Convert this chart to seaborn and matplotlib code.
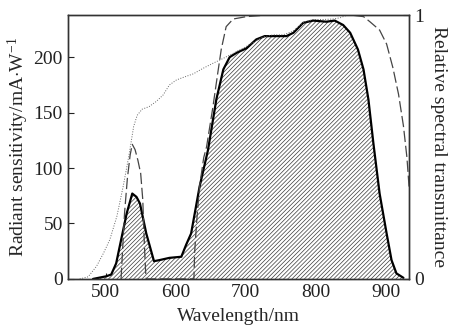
import numpy as np
import pandas as pd
import matplotlib
matplotlib.use("Agg")
import matplotlib.pyplot as plt
import seaborn as sns

# radiant sensitivity (mA/W), solid curve with hatched area
sens_nm = [482, 501, 508, 515, 522, 530, 538, 544, 549, 558, 569, 577, 591, 608, 615, 622,
           634, 646, 658, 668, 677, 687, 701, 715, 727, 744, 758, 768, 782, 796, 815, 827,
           839, 849, 860, 868, 875, 882, 891, 901, 908, 915, 925]
sens_val = [0, 2.4, 4, 14, 35, 59, 77, 74, 68, 41, 16, 17, 19, 20, 31, 41,
            83, 116, 162, 189, 200, 204, 208, 216, 219, 219, 219, 222, 231, 233, 232, 233,
            229, 222, 207, 189, 162, 123, 77, 41, 17, 5, 1]

# dotted curve (relative, right axis)
dot_nm = [463, 475, 487, 497, 506, 516, 525, 533, 540, 545, 552, 562, 572, 582, 591, 601,
          611, 625, 639, 653, 668, 682, 696, 710, 724, 739, 753, 767, 782, 796, 810, 825,
          835, 845, 858, 870]
dot_val = [0, 0.008, 0.048, 0.098, 0.149, 0.237, 0.35, 0.464, 0.578, 0.62, 0.643, 0.653,
           0.672, 0.697, 0.735, 0.754, 0.764, 0.777, 0.798, 0.817, 0.836, 0.855, 0.874,
           0.895, 0.916, 0.925, 0.925, 0.938, 0.972, 0.983, 0.983, 0.985, 0.99, 1.0, 1.0, 1.01]

# dashed curve: filter transmittance (right axis)
dash_nm = [522, 524, 527, 531, 535, 538, 542, 546, 550, 553, 555, 557, 558,
           626, 627, 630, 634, 640, 644, 653, 660, 665, 672, 682, 701, 730, 800, 850,
           868, 877, 891, 901, 910, 918, 925, 930, 933]
dash_val = [0, 0.1, 0.25, 0.38, 0.47, 0.51, 0.49, 0.45, 0.40, 0.30, 0.15, 0.03, 0,
            0, 0.1, 0.22, 0.35, 0.46, 0.50, 0.65, 0.78, 0.87, 0.956, 0.985, 0.994, 1.0, 1.0, 1.0,
            0.994, 0.975, 0.943, 0.89, 0.80, 0.70, 0.58, 0.46, 0.35]

sns.set_style("ticks")
plt.rcParams['font.family'] = ['Liberation Serif', 'DejaVu Serif']
plt.rcParams['mathtext.fontset'] = 'custom'
plt.rcParams['mathtext.rm'] = 'Liberation Serif'
plt.rcParams['mathtext.it'] = 'Liberation Serif:italic'
plt.rcParams['hatch.linewidth'] = 0.5
plt.rcParams['hatch.color'] = '#3a3a3a'

fig = plt.figure(figsize=(4.49, 3.27), dpi=100)
ax = fig.add_axes([0.151, 0.147, 0.76, 0.807])

sens = pd.DataFrame({'nm': sens_nm, 'val': sens_val})
ax.fill_between(sens['nm'], 0, sens['val'], facecolor='white', hatch='////////',
                edgecolor='#3a3a3a', linewidth=0)
sns.lineplot(data=sens, x='nm', y='val', ax=ax, color='black', linewidth=1.6,
             estimator=None, sort=False)

ax2 = ax.twinx()
dots = pd.DataFrame({'nm': dot_nm, 'val': dot_val})
dash = pd.DataFrame({'nm': dash_nm, 'val': dash_val})
sns.lineplot(data=dots, x='nm', y='val', ax=ax2, color='#666666', linewidth=0.7,
             linestyle=(0, (1, 1.6)), estimator=None, sort=False)
sns.lineplot(data=dash, x='nm', y='val', ax=ax2, color='#444444', linewidth=0.9,
             linestyle=(0, (9, 3)), estimator=None, sort=False)

ax.set_xlim(446, 933)
ax.set_ylim(0, 238)
ax2.set_ylim(0, 1)
ax.set_xticks([500, 600, 700, 800, 900])
ax.set_yticks([0, 50, 100, 150, 200])
ax2.set_yticks([0, 1])
ax2.set_yticklabels(['0', '1'])

for a in (ax, ax2):
    a.tick_params(direction='in', length=4, width=0.8, labelsize=14, colors='#222222')
    for s in a.spines.values():
        s.set_visible(True)
        s.set_linewidth(1.0)
        s.set_color('#333333')

ax.set_xlabel('Wavelength/nm', fontsize=14, labelpad=5)
ax.set_ylabel('Radiant sensitivity/mA$\\cdot$W$^{-1}$', fontsize=14, labelpad=2)
ax2.set_ylabel('Relative spectral transmittance', fontsize=14, rotation=270, labelpad=17)
ax2.set_xlabel('')

fig.savefig('out.png', dpi=100)
